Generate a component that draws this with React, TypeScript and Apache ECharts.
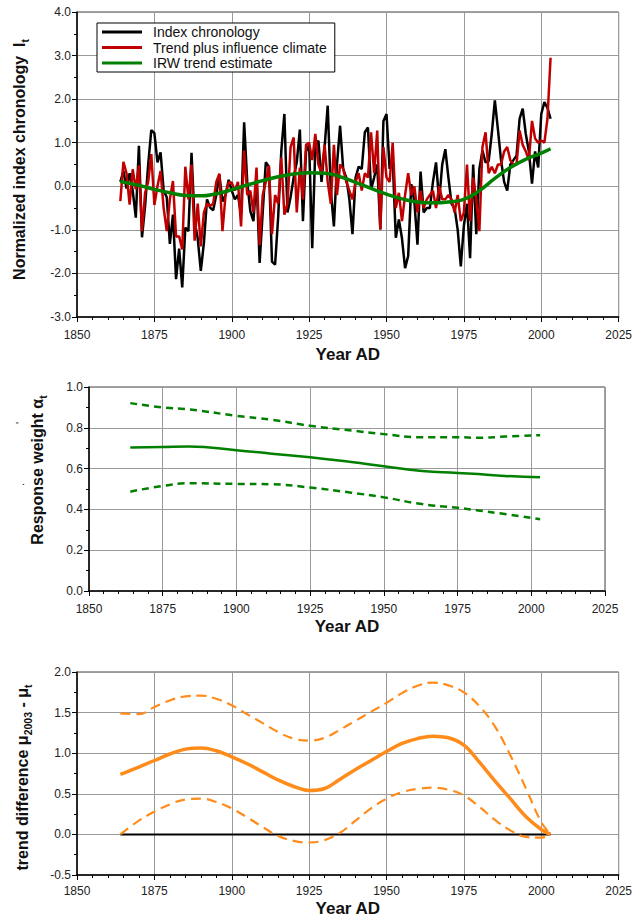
import React, { useEffect, useRef } from "react";
import * as echarts from "echarts";

// ---- Data ----
const START_YEAR = 1864;
const indexChronology = [
  0.10, 0.35, -0.05, 0.30, -0.10, -0.72,
  0.93, -1.17, -0.45, 0.50, 1.29, 1.22, 0.55, 0.78, -0.10, -0.25,
  -1.32, -0.65, -2.13, -1.43, -2.32, -0.95, -1.03, 0.77, -0.80, -1.20,
  -1.94, -1.30, -0.30, -0.49, -0.55, -0.20, 0.26, -0.35, -0.20, 0.15,
  -0.10, -0.30, -0.20, -0.65, 1.47, 0.10, -0.57, -0.80, 0.20, -1.76,
  -0.60, 0.55, 0.45, -1.73, -1.80, -0.70, 0.80, 1.66, -0.60, -0.25,
  0.20, 0.55, 1.30, -0.80, 0.80, 0.95, -1.42, 0.90, 1.05, 0.10,
  0.90, 1.85, -0.10, -0.92, 0.50, 1.39, 0.40, 0.20, -0.30, -1.10,
  0.20, 0.45, 0.40, 1.24, 1.35, -0.07, 0.20, 0.50, -0.99, 1.50,
  1.66, 0.40, 0.60, -1.18, -0.76, -1.20, -1.88, -1.60, 0.05, -0.35,
  -1.34, 0.34, -0.60, -0.50, -0.50, 0.10, 0.55, -0.34, 0.50, 0.85,
  0.20, -0.40, -0.50, -1.00, -1.84, -0.90, -0.40, -1.65, 0.50, -1.10,
  0.40, 0.82, 0.55, 0.58, 1.20, 1.97, 1.30, 0.60, 0.10, -0.10,
  0.50, 0.60, 0.70, 1.55, 1.78, 1.20, 0.80, 0.06, 0.80, 0.43,
  1.66, 1.93, 1.80, 1.55,
];
const trendPlusClimate = [
  -0.34, 0.56, 0.30, -0.42, 0.39, -0.07,
  0.48, -1.03, -0.15, 0.10, 0.74, -0.43, 0.00, 0.35, -0.50, -1.03,
  -0.30, 0.12, -1.15, -1.15, -1.45, 0.45, -0.30, 0.50, -1.25, -0.40,
  -1.38, -0.60, -0.40, -0.45, -0.40, 0.10, 0.29, -1.03, -0.20, 0.10,
  0.08, -0.10, 0.10, -0.92, 0.82, -0.20, -0.10, -0.60, 0.43, -1.35,
  -0.20, 0.10, 0.47, -1.10, -0.20, -0.40, 0.66, -0.65, -0.40, 0.90,
  1.12, -0.60, 0.43, -0.30, 0.95, 1.00, 0.60, 1.20, 0.50, 0.30,
  0.95, 0.10, -0.40, 0.95, -0.20, 0.50, 0.40, 0.10, -0.10, -0.30,
  0.10, 0.30, -0.10, 0.30, 0.20, 1.24, 0.30, 1.28, -0.99, 0.90,
  0.20, 0.10, 1.00, -0.50, -0.15, -0.80, -0.20, 0.30, -0.20, 0.00,
  -0.60, -0.10, -0.50, -0.30, -0.20, -0.10, -0.50, 0.00, -0.30, -0.30,
  -0.20, -0.30, -0.60, -0.20, -0.80, -0.60, 0.50, -0.80, 0.20, -0.30,
  -1.03, 0.90, 1.24, 0.30, 0.45, 0.30, 0.50, 0.50, 0.80, 0.90,
  0.60, 0.50, 0.50, 1.28, 0.95, 0.80, 0.60, 1.50, 1.10, 1.00,
  1.05, 1.00, 1.55, 2.95,
];
const trendYears = [1864, 1870, 1875, 1880, 1885, 1890, 1895, 1900, 1905, 1910, 1915, 1920, 1925, 1930, 1935, 1940, 1945, 1950, 1955, 1960, 1965, 1970, 1975, 1980, 1985, 1990, 1995, 2000, 2003];
const irwTrend = [0.11, 0.02, -0.07, -0.15, -0.21, -0.22, -0.17, -0.08, 0.03, 0.13, 0.22, 0.28, 0.31, 0.30, 0.22, 0.09, -0.05, -0.18, -0.29, -0.36, -0.38, -0.36, -0.30, -0.10, 0.18, 0.43, 0.62, 0.76, 0.86];

const weightYears = [1864, 1875, 1884, 1900, 1912, 1925, 1939, 1950, 1963, 1975, 1982, 1991, 2003];
const weightMid = [0.703, 0.706, 0.708, 0.690, 0.673, 0.656, 0.632, 0.611, 0.588, 0.579, 0.573, 0.564, 0.558];
const weightUpper = [0.921, 0.900, 0.890, 0.859, 0.839, 0.810, 0.787, 0.769, 0.754, 0.754, 0.751, 0.757, 0.764];
const weightLower = [0.487, 0.515, 0.528, 0.525, 0.523, 0.507, 0.482, 0.459, 0.426, 0.408, 0.395, 0.377, 0.352];

const diffYears = [1864, 1870, 1875, 1880, 1885, 1890, 1895, 1900, 1905, 1910, 1915, 1920, 1925, 1930, 1935, 1940, 1945, 1950, 1955, 1960, 1965, 1970, 1975, 1980, 1985, 1990, 1995, 2000, 2003];
const diffMid = [0.74, 0.83, 0.91, 0.99, 1.05, 1.065, 1.03, 0.955, 0.87, 0.77, 0.67, 0.59, 0.54, 0.565, 0.68, 0.80, 0.91, 1.02, 1.12, 1.18, 1.21, 1.19, 1.10, 0.89, 0.66, 0.44, 0.22, 0.06, 0.00];
const diffUpper = [1.49, 1.48, 1.57, 1.65, 1.70, 1.71, 1.67, 1.59, 1.48, 1.37, 1.26, 1.18, 1.155, 1.19, 1.29, 1.40, 1.51, 1.62, 1.74, 1.83, 1.87, 1.835, 1.75, 1.58, 1.33, 0.975, 0.57, 0.15, 0.00];
const diffLower = [0.00, 0.17, 0.28, 0.37, 0.43, 0.44, 0.40, 0.32, 0.21, 0.09, -0.02, -0.08, -0.10, -0.07, 0.02, 0.17, 0.32, 0.44, 0.52, 0.56, 0.575, 0.55, 0.48, 0.34, 0.18, 0.05, -0.03, -0.04, 0.00];
const zeroYears = [1864, 2003];
const zeroLine = [0, 0];

const xTicks = [1850, 2025, 25];

const pairs = (xs: number[], ys: number[]) => ys.map((v, i) => [xs[i], v]);
const annualYears = indexChronology.map((_, i) => START_YEAR + i);

const FONT = "Arial, 'Liberation Sans', sans-serif";

export default function App() {
  const ref = useRef<HTMLDivElement>(null);
  useEffect(() => {
    const chart = echarts.init(ref.current!, undefined, { renderer: "svg" });

    const xAxisBase = (gridIndex: number, labelMargin: number, nameGap: number) => ({
      type: "value",
      gridIndex,
      min: xTicks[0],
      max: xTicks[1],
      interval: xTicks[2],
      name: "Year AD",
      nameLocation: "middle",
      nameGap,
      nameTextStyle: { fontFamily: FONT, fontWeight: "bold", fontSize: 17, color: "#111" },
      axisLine: { show: true, onZero: false, lineStyle: { color: "#000", width: 1.5 } },
      axisTick: { show: true, length: 5, lineStyle: { color: "#000" } },
      minorTick: { show: true, splitNumber: 5, length: 3, lineStyle: { color: "#000" } },
      axisLabel: { fontFamily: FONT, fontSize: 12, color: "#222", margin: labelMargin, formatter: (v: number) => String(v) },
      splitLine: { show: true, lineStyle: { color: "#9a9a9a", width: 1 } },
    });

    const yAxisBase = (gridIndex: number, min: number, max: number, interval: number, name: string, nameGap: number, pad: number[], rich: any) => ({
      type: "value",
      gridIndex,
      min,
      max,
      interval,
      name,
      nameLocation: "middle",
      nameRotate: 90,
      nameGap,
      nameTextStyle: { fontFamily: FONT, fontWeight: "bold", fontSize: 16, color: "#111", padding: pad, rich },
      axisLine: { show: true, onZero: false, lineStyle: { color: "#000", width: 1.5 } },
      axisTick: { show: true, length: 5, lineStyle: { color: "#000" } },
      minorTick: { show: true, splitNumber: 2, length: 3, lineStyle: { color: "#000" } },
      axisLabel: { fontFamily: FONT, fontSize: 12, color: "#222", margin: 6, formatter: (v: number) => v.toFixed(1) },
      splitLine: { show: true, lineStyle: { color: "#9a9a9a", width: 1 } },
    });

    const richBase = {
      a: { fontFamily: FONT, fontWeight: "bold", fontSize: 16, color: "#111", lineHeight: 21 },
      s: { fontFamily: FONT, fontWeight: "bold", fontSize: 10.5, color: "#111", verticalAlign: "bottom", lineHeight: 21 },
    };

    const option: any = {
      animation: false,
      backgroundColor: "#fff",
      grid: [
        { left: 77, top: 12, width: 542, height: 305, show: true, borderColor: "#444", borderWidth: 1, backgroundColor: "transparent" },
        { left: 89, top: 387, width: 516, height: 204, show: true, borderColor: "#444", borderWidth: 1, backgroundColor: "transparent" },
        { left: 77, top: 672, width: 542, height: 204, show: true, borderColor: "#444", borderWidth: 1, backgroundColor: "transparent" },
      ],
      xAxis: [xAxisBase(0, 12, 29), xAxisBase(1, 12, 27), xAxisBase(2, 10, 25)],
      yAxis: [
        yAxisBase(0, -3, 4, 1, "{a|Normalized index chronology  I}{s|t}", 47, [0, 0, 0, 10], richBase),
        yAxisBase(1, 0, 1, 0.2, "{a|Response weight α}{s|t}", 41, [0, 0, 0, 38], richBase),
        yAxisBase(2, -0.5, 2, 0.5, "{a|trend difference μ}{s|2003}{a| - μ}{s|t}", 44, [0, 8, 0, 0], richBase),
      ],
      legend: {
        data: [
          { name: "Index chronology", icon: "rect" },
          { name: "Trend plus influence climate", icon: "rect" },
          { name: "IRW trend estimate", icon: "rect" },
        ],
        orient: "vertical",
        left: 97,
        top: 23,
        itemWidth: 40,
        itemHeight: 3,
        itemGap: 1.5,
        padding: [2, 8, 2, 5],
        borderColor: "#000",
        borderWidth: 1,
        borderRadius: 0,
        backgroundColor: "#fff",
        textStyle: { fontFamily: FONT, fontSize: 14, color: "#111", padding: [0, 0, 0, 6] },
      },
      series: [
        {
          name: "Index chronology", type: "line", xAxisIndex: 0, yAxisIndex: 0,
          data: pairs(annualYears, indexChronology), symbol: "none",
          lineStyle: { color: "#000", width: 2.5 }, itemStyle: { color: "#000" }, z: 2,
        },
        {
          name: "Trend plus influence climate", type: "line", xAxisIndex: 0, yAxisIndex: 0,
          data: pairs(annualYears, trendPlusClimate), symbol: "none",
          lineStyle: { color: "#c00000", width: 2.5 }, itemStyle: { color: "#c00000" }, z: 3,
        },
        {
          name: "IRW trend estimate", type: "line", xAxisIndex: 0, yAxisIndex: 0,
          data: pairs(trendYears, irwTrend), symbol: "none", smooth: true,
          lineStyle: { color: "#008000", width: 3.5 }, itemStyle: { color: "#008000" }, z: 4,
        },
        {
          type: "line", xAxisIndex: 1, yAxisIndex: 1, data: pairs(weightYears, weightUpper), symbol: "none", smooth: true,
          lineStyle: { color: "#008000", width: 2.5, type: [7, 5] },
        },
        {
          type: "line", xAxisIndex: 1, yAxisIndex: 1, data: pairs(weightYears, weightMid), symbol: "none", smooth: true,
          lineStyle: { color: "#008000", width: 2.5 },
        },
        {
          type: "line", xAxisIndex: 1, yAxisIndex: 1, data: pairs(weightYears, weightLower), symbol: "none", smooth: true,
          lineStyle: { color: "#008000", width: 2.5, type: [7, 5] },
        },
        {
          type: "line", xAxisIndex: 2, yAxisIndex: 2, data: pairs(zeroYears, zeroLine), symbol: "none",
          lineStyle: { color: "#000", width: 2 },
        },
        {
          type: "line", xAxisIndex: 2, yAxisIndex: 2, data: pairs(diffYears, diffUpper), symbol: "none", smooth: 0.4,
          lineStyle: { color: "#ff8c1a", width: 2.2, type: [10, 6] },
        },
        {
          type: "line", xAxisIndex: 2, yAxisIndex: 2, data: pairs(diffYears, diffMid), symbol: "none", smooth: 0.4,
          lineStyle: { color: "#ff8c1a", width: 3.5 },
        },
        {
          type: "line", xAxisIndex: 2, yAxisIndex: 2, data: pairs(diffYears, diffLower), symbol: "none", smooth: 0.4,
          lineStyle: { color: "#ff8c1a", width: 2.2, type: [10, 6] },
        },
      ],
      graphic: [
        { type: "text", x: 14, y: 424, rotation: Math.PI / 2, style: { text: "'", fontFamily: FONT, fontSize: 11, fill: "#111" } },
        { type: "text", x: 14, y: 486, rotation: Math.PI / 2, style: { text: ".", fontFamily: FONT, fontSize: 11, fill: "#111" } },
      ],
    };
    chart.setOption(option);
    return () => chart.dispose();
  }, []);
  return <div ref={ref} style={{ position: "absolute", left: 0, top: 0, width: 635, height: 918 }} />;
}
